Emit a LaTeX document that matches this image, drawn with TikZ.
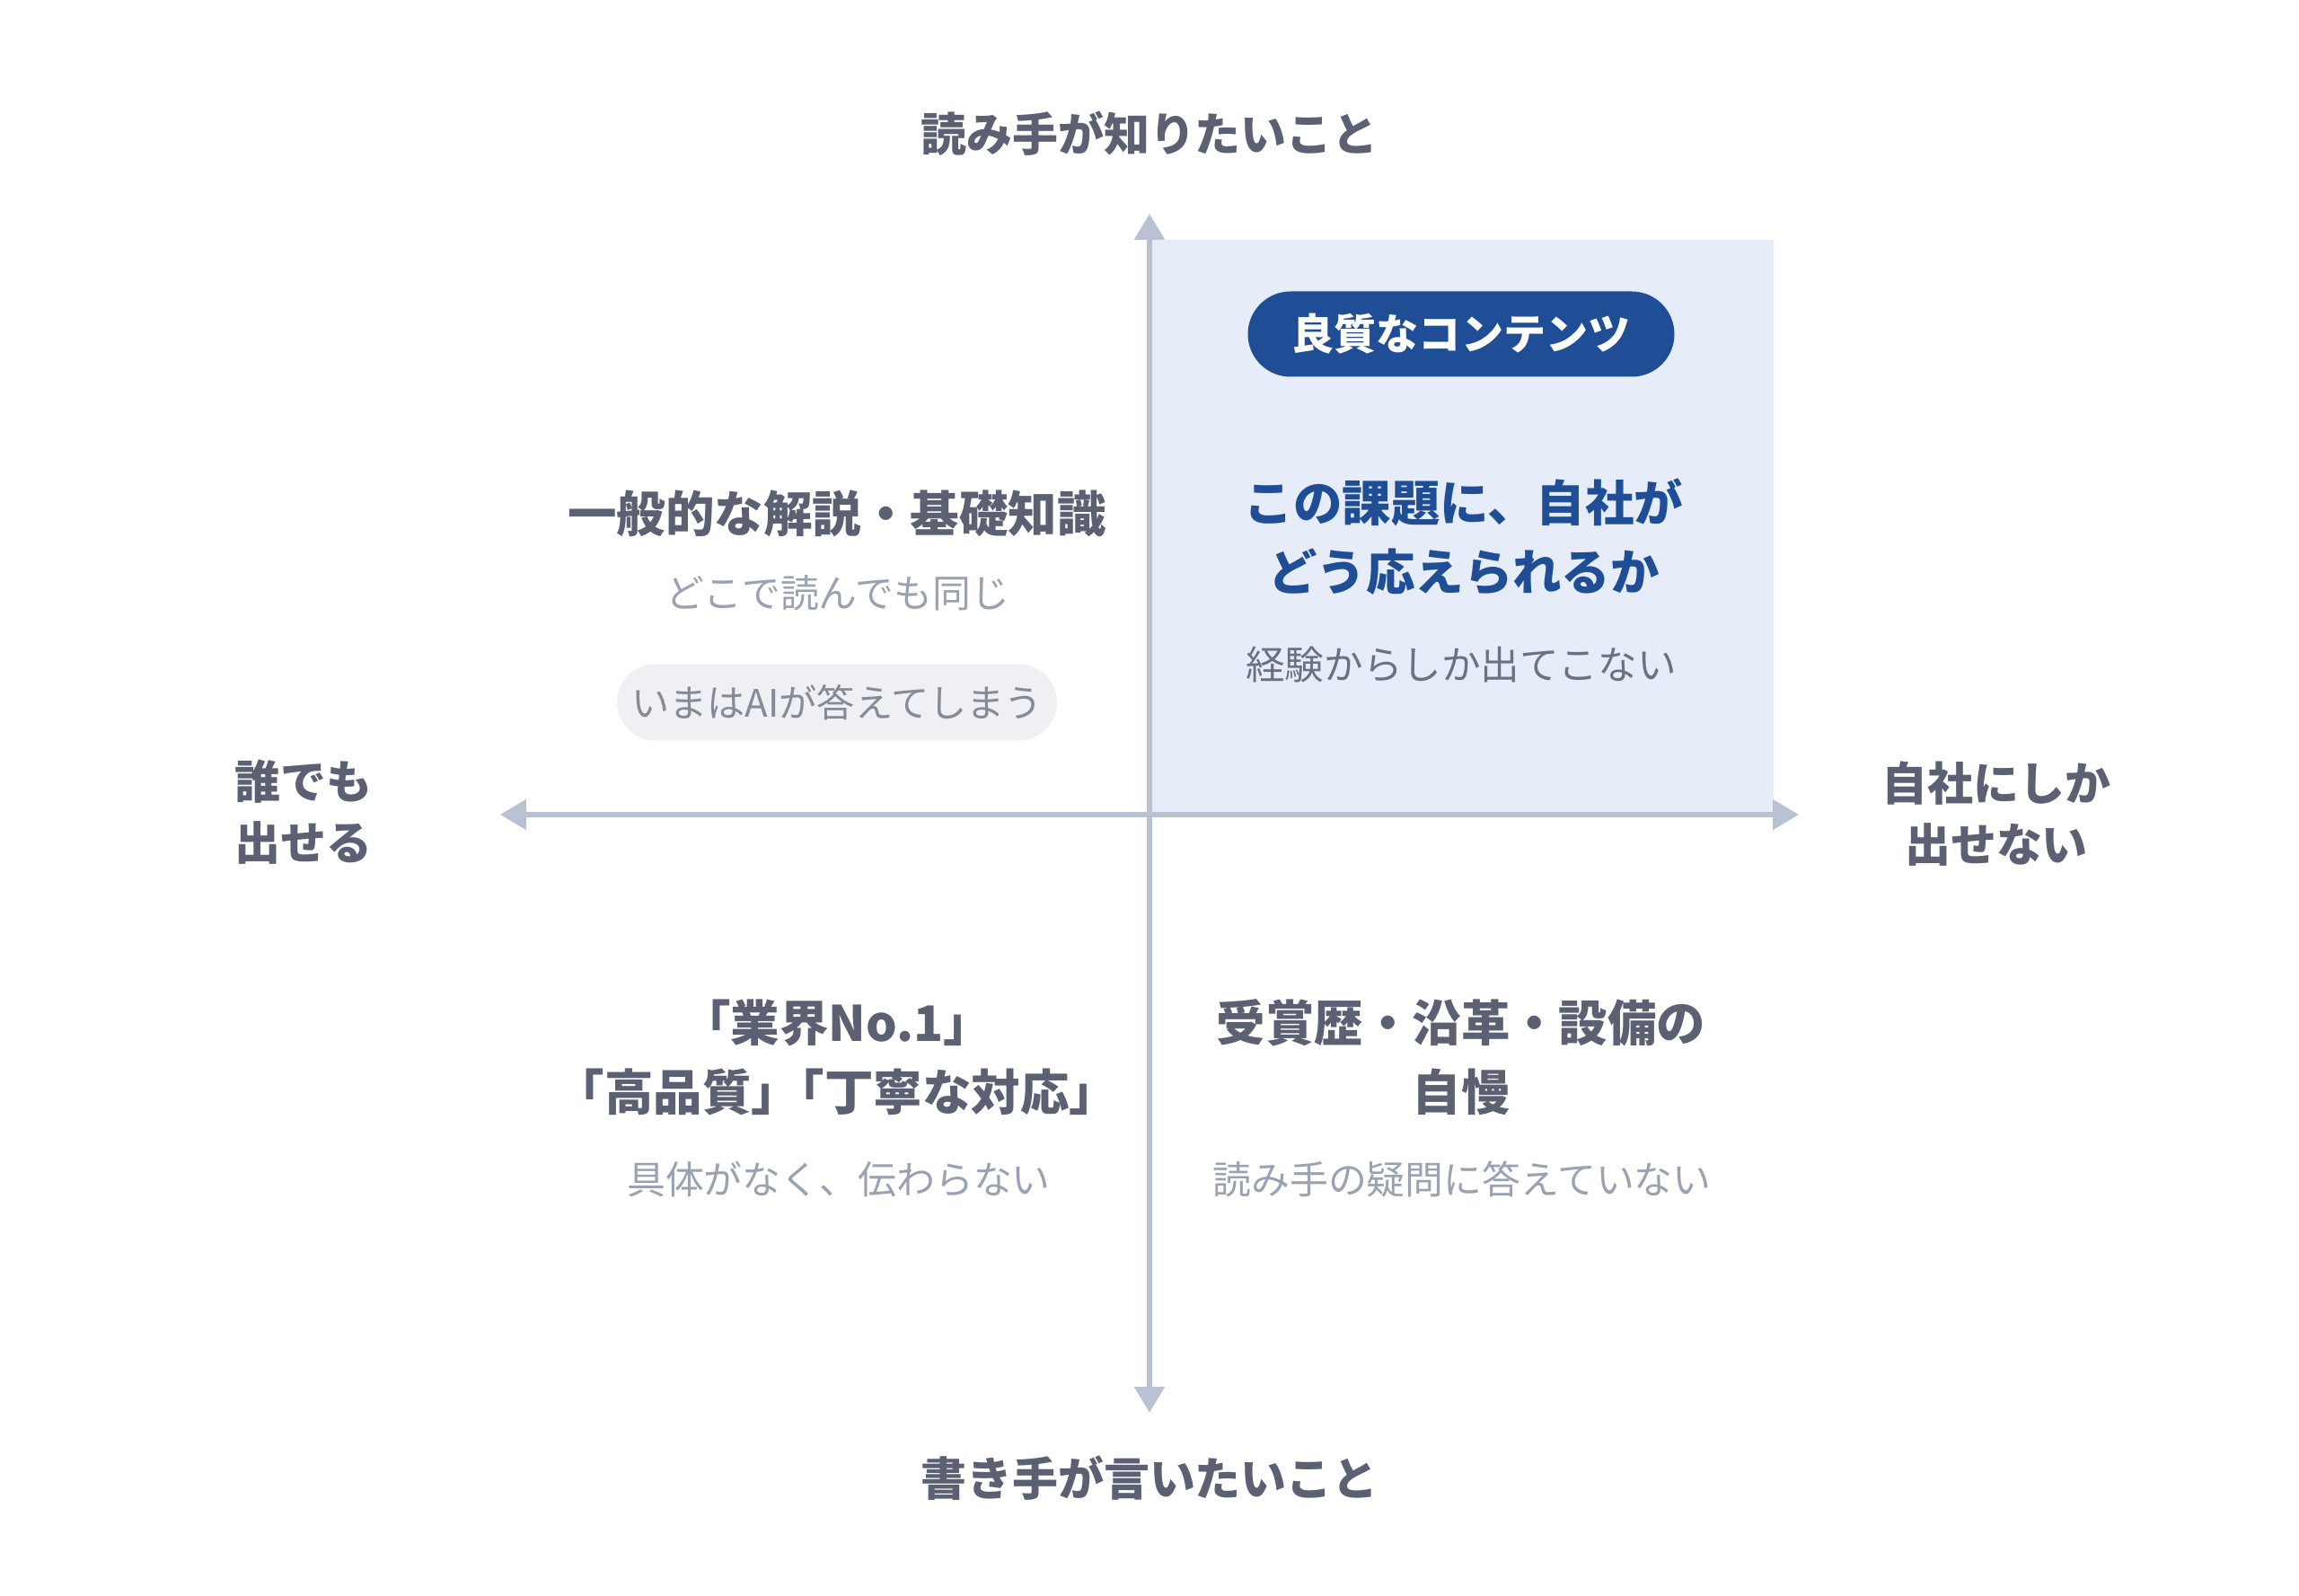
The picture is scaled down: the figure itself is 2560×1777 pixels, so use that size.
\documentclass[tikz,border=0pt]{standalone}
\usepackage{fontspec}
\setmainfont{Noto Sans CJK JP}
\usetikzlibrary{arrows.meta}
\definecolor{ink}{HTML}{5C6073}
\definecolor{faint}{HTML}{9AA2B2}
\definecolor{mid}{HTML}{6B7185}
\definecolor{axis}{HTML}{B8C2D3}
\definecolor{panel}{HTML}{E7EDF8}
\definecolor{brand}{HTML}{1F4E97}
\definecolor{chip}{HTML}{EFF0F4}
\definecolor{chiptext}{HTML}{858A96}
\begin{document}
\begin{tikzpicture}[x=0.1mm, y=-0.1mm,
    axislabel/.style={text=ink, font={\fontsize{14.5}{19.3}\selectfont\bfseries}, align=center, inner sep=0pt},
    quadtitle/.style={text=ink, font={\fontsize{15.5}{21.9}\selectfont\bfseries}, align=center, inner sep=0pt},
    note/.style={text=faint, font={\fontsize{12.2}{15}\selectfont}, inner sep=0pt},
    tip/.style={-{Triangle[width=3.3mm,length=2.9mm]}}]
    \useasboundingbox (0,0) rectangle (2560,1777);
    % upper right panel
    \fill[panel] (1280,267) rectangle (1975,907);
    \coordinate (o) at (1280,907);
    \coordinate (n) at (1280,238);
    \coordinate (s) at (1280,1573);
    \coordinate (w) at (557,907);
    \coordinate (e) at (2003,907);
    \draw[axis, line width=0.55mm, tip] (o) -- (n);
    \draw[axis, line width=0.55mm, tip] (o) -- (s);
    \draw[axis, line width=0.55mm, tip] (o) -- (w);
    \draw[axis, line width=0.55mm, tip] (o) -- (e);
    % axis labels
    \node[axislabel] (want) at (1280,149) {読み手が知りたいこと};
    \node[axislabel] (say) at (1280,1646) {書き手が言いたいこと};
    \node[axislabel] (anyone) at (338,904) {誰でも\\出せる};
    \node[axislabel] (only) at (2223,906) {自社にしか\\出せない};
    % upper left
    \node[quadtitle] (general) at (932,572) {一般的な解説・基礎知識};
    \node[note] (same) at (933,660) {どこで読んでも同じ};
    \node[fill=chip, text=chiptext, font={\fontsize{12}{14}\selectfont},
        minimum width=49mm, minimum height=8.5mm, rounded corners=4.25mm] (ai) at (932,782) {いまはAIが答えてしまう};
    % upper right
    \node[fill=brand, text=white, font={\fontsize{13.4}{16}\selectfont\bfseries},
        minimum width=47.5mm, minimum height=9.5mm, rounded corners=4.75mm] (good) at (1627,372) {良質なコンテンツ};
    \node[quadtitle, text=brand] (answer) at (1630,598) {この課題に、自社が\\どう応えられるか};
    \node[note, text=mid, font={\fontsize{12.4}{15}\selectfont}] (exp) at (1627,740) {経験からしか出てこない};
    % lower left
    \node[quadtitle] (claim) at (932,1177) {「業界No.1」\\「高品質」\kern-0.5em「丁寧な対応」};
    \node[note] (vague) at (934,1313) {具体がなく、伝わらない};
    % lower right
    \node[quadtitle] (boast) at (1627,1177) {受賞歴・沿革・設備の\\自慢};
    \node[note] (miss) at (1628,1313) {読み手の疑問に答えていない};
\end{tikzpicture}
\end{document}
